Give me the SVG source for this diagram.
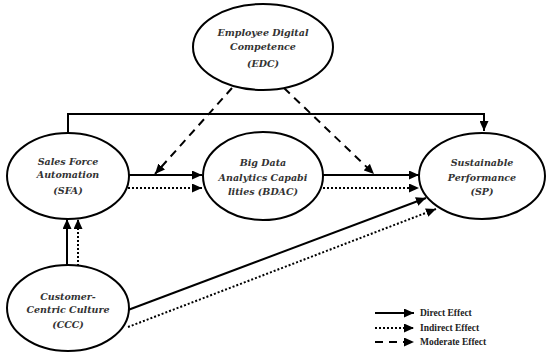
<svg xmlns="http://www.w3.org/2000/svg" width="550" height="360" viewBox="0 0 550 360">
<defs>
<marker id="ah" markerUnits="userSpaceOnUse" markerWidth="11" markerHeight="9" refX="10" refY="4.5" orient="auto">
<path d="M0,0 L10,4.5 L0,9 Z" fill="#000"/>
</marker>
<style>
.node ellipse{fill:#fff;stroke:#000;stroke-width:2}
.node text{font-family:'DejaVu Serif','Liberation Serif',serif;font-style:italic;font-weight:bold;font-size:9.5px;text-anchor:middle;fill:#333}
.c{fill:none;stroke:#000;stroke-width:2}
.solid{marker-end:url(#ah)}
.dot{stroke-dasharray:2 2;marker-end:url(#ah)}
.dash{stroke-dasharray:8 6;marker-end:url(#ah)}
.leg{font-family:'Liberation Serif',serif;font-weight:bold;font-size:9.5px;fill:#222}
</style>
</defs>
<rect width="550" height="360" fill="#fff"/>
<g id="connectors">
<path class="c solid" d="M68,133 V114 H484 V131"/>
<line class="c solid" x1="128" y1="175" x2="202" y2="175"/>
<line class="c dot" x1="128" y1="188" x2="202" y2="188"/>
<line class="c solid" x1="323" y1="175" x2="419" y2="175"/>
<line class="c dot" x1="323" y1="188" x2="419" y2="188"/>
<line class="c dash" x1="232" y1="88" x2="155" y2="174"/>
<line class="c dash" x1="284" y1="88" x2="374" y2="174"/>
<line class="c solid" x1="67" y1="265" x2="67" y2="219"/>
<line class="c dot" x1="78" y1="266" x2="78" y2="219"/>
<line class="c solid" x1="128" y1="310" x2="426" y2="198"/>
<line class="c dot" x1="128" y1="327" x2="436" y2="209"/>
</g>
<g id="EDC" class="node">
<ellipse cx="263" cy="47" rx="70" ry="43"/>
<text x="263" y="36">Employee Digital</text>
<text x="263" y="50">Competence</text>
<text x="263" y="67">(EDC)</text>
</g>
<g id="SFA" class="node">
<ellipse cx="68" cy="176" rx="61" ry="43"/>
<text x="68" y="165">Sales Force</text>
<text x="68" y="178">Automation</text>
<text x="68" y="194">(SFA)</text>
</g>
<g id="BDAC" class="node">
<ellipse cx="263" cy="176" rx="60" ry="44"/>
<text x="263" y="166">Big Data</text>
<text x="263" y="181">Analytics Capabi</text>
<text x="263" y="195">lities (BDAC)</text>
</g>
<g id="SP" class="node">
<ellipse cx="482" cy="176" rx="63" ry="43"/>
<text x="482" y="166">Sustainable</text>
<text x="482" y="181">Performance</text>
<text x="482" y="195">(SP)</text>
</g>
<g id="CCC" class="node">
<ellipse cx="68" cy="308" rx="61" ry="43"/>
<text x="68" y="300">Customer-</text>
<text x="68" y="313">Centric Culture</text>
<text x="68" y="328">(CCC)</text>
</g>
<g id="legend">
<line class="c solid" x1="375" y1="313" x2="414" y2="313"/>
<line class="c dot" x1="375" y1="328" x2="414" y2="328"/>
<line class="c dash" x1="375" y1="342" x2="414" y2="342"/>
<text class="leg" x="420" y="316">Direct Effect</text>
<text class="leg" x="420" y="331">Indirect Effect</text>
<text class="leg" x="420" y="345">Moderate Effect</text>
</g>
</svg>
